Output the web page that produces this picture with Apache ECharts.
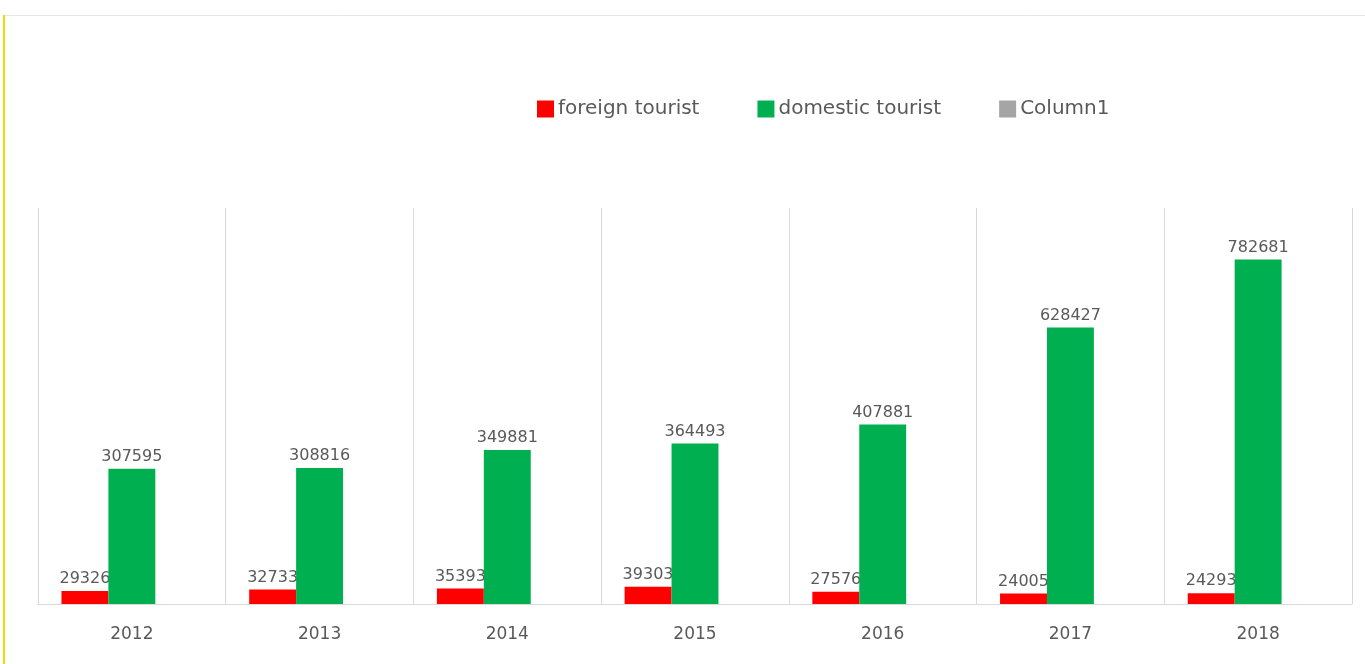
<!DOCTYPE html>
<html>
<head>
<meta charset="utf-8">
<script src="https://cdn.jsdelivr.net/npm/echarts@6/dist/echarts.min.js"></script>
<style>
html,body{margin:0;padding:0;background:#fff;}
#c{width:1365px;height:664px;}
</style>
</head>
<body>
<div id="c"></div>
<script>
const years = ['2012','2013','2014','2015','2016','2017','2018'];
const foreignTourist = [29326, 32733, 35393, 39303, 27576, 24005, 24293];
const domesticTourist = [307595, 308816, 349881, 364493, 407881, 628427, 782681];
const column1 = [null, null, null, null, null, null, null];
const seriesNames = ['foreign tourist', 'domestic tourist', 'Column1'];

const FONT = '"DejaVu Sans", sans-serif';
const TXT = '#595959';

const chart = echarts.init(document.getElementById('c'));
const labelCfg = {
  show: true, position: 'top', distance: 4,
  color: TXT, fontFamily: FONT, fontSize: 16
};
chart.setOption({
  animation: false,
  backgroundColor: '#fff',
  graphic: [
    { type: 'line', shape: { x1: 3, y1: 15.5, x2: 1365, y2: 15.5 }, style: { stroke: '#e6e6e6', lineWidth: 1 } },
    { type: 'line', shape: { x1: 4, y1: 15, x2: 4, y2: 664 }, style: { stroke: '#e8e000', lineWidth: 2 } }
  ],
  legend: {
    left: 532, top: 94,
    itemWidth: 17, itemHeight: 17, itemGap: 58,
    icon: 'rect',
    textStyle: { color: TXT, fontFamily: FONT, fontSize: 20, padding: [0, 0, 0, -1] },
    data: seriesNames
  },
  grid: { left: 38, right: 13, top: 208, bottom: 60, containLabel: false },
  xAxis: {
    type: 'category',
    data: years,
    axisLine: { show: true, lineStyle: { color: '#d9d9d9', width: 1 } },
    axisTick: { show: false },
    axisLabel: { color: TXT, fontFamily: FONT, fontSize: 17, margin: 22 },
    splitLine: {
      show: true,
      lineStyle: { color: '#d9d9d9', width: 1 },
      interval: function (idx) { return idx < years.length; }
    }
  },
  yAxis: {
    type: 'value', min: 0, max: 900000, interval: 100000,
    show: false,
    splitLine: { show: false }
  },
  series: [
    { name: seriesNames[0], type: 'bar', data: foreignTourist,
      itemStyle: { color: '#ff0000' }, barGap: '0%', barCategoryGap: '25%', label: labelCfg },
    { name: seriesNames[1], type: 'bar', data: domesticTourist, zlevel: 1,
      itemStyle: { color: '#00b050' }, barGap: '0%', barCategoryGap: '25%', label: labelCfg },
    { name: seriesNames[2], type: 'bar', data: column1,
      itemStyle: { color: '#a5a5a5' }, barGap: '0%', barCategoryGap: '25%', label: labelCfg }
  ]
});
</script>
</body>
</html>
